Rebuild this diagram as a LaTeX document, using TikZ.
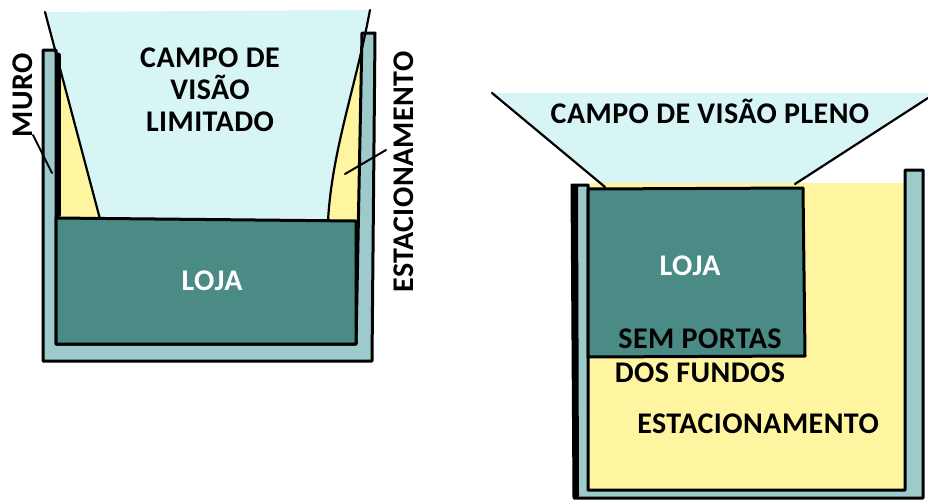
\documentclass[tikz,border=0pt]{standalone}
\usepackage{fontspec}
\setmainfont{Carlito}[LetterSpace=1.5]
\definecolor{fovc}{RGB}{214,245,244}
\definecolor{wallc}{RGB}{157,202,202}
\definecolor{shopc}{RGB}{74,139,134}
\definecolor{parkc}{RGB}{255,245,160}
\begin{document}
\begin{tikzpicture}[x=1pt,y=-1pt,line join=round,line cap=round,
  outl/.style={draw=black,line width=3pt},
  edgeline/.style={draw=black,line width=2.2pt},
  lbl/.style={font=\fontsize{30}{32}\selectfont\bfseries,inner sep=0pt,anchor=base},
  leader/.style={draw=black,line width=2pt}]
\useasboundingbox (0,0) rectangle (928,501);
% ---------- left diagram ----------
\fill[parkc] (56,40) rectangle (360,221);
\fill[fovc] (45,12) -- (100,219) -- (328,221) .. controls (332,150) and (355,90) .. (370,10) -- cycle;
\filldraw[fill=wallc,outl] (43,50) -- (43,361) -- (372,361) -- (375,33) -- (362,33) -- (356,344) -- (56,344) -- (56,50) -- cycle;
\filldraw[fill=shopc,outl] (56,218) -- (356,221) -- (356,344) -- (56,344) -- cycle;
\draw[edgeline] (45,12) -- (100,219);
\draw[edgeline] (370,10) .. controls (355,90) and (332,150) .. (328,221);
\draw[line width=5pt] (58,55) -- (58,215);
\node[lbl] (c1) at (210,67) {CAMPO DE};
\node[lbl] (c2) at (210,99) {VISÃO};
\node[lbl] (c3) at (210,131) {LIMITADO};
\node[lbl,text=white] (loja1) at (212,290) {LOJA};
\node[lbl,rotate=90] (muro) at (32,95) {MURO};
\node[lbl,rotate=90] (estac1) at (413,172) {ESTACIONAMENTO};
\coordinate (muroend) at (52,173);
\coordinate (muroleader) at (33,135);
\draw[leader] (muroleader) -- (muroend);
\coordinate (estacend) at (345,174);
\coordinate (estacleader) at (386,150);
\draw[leader] (estacleader) -- (estacend);
% ---------- right diagram ----------
\fill[fovc] (492,93) -- (928,93) -- (928,98) -- (795,185) -- (605,188) -- cycle;
\fill[parkc] (588,183) rectangle (905,490);
\filldraw[fill=wallc,outl] (572,185) -- (574,498) -- (923,498) -- (923,170) -- (905,170) -- (905,490) -- (588,490) -- (588,185) -- cycle;
\draw[line width=6pt] (575,187) -- (576,496);
\filldraw[fill=shopc,outl] (588,189) -- (803,188) -- (805,356) -- (588,357) -- cycle;
\draw[edgeline] (492,93) -- (605,187);
\draw[edgeline] (928,98) -- (795,184);
\node[lbl] (pleno) at (710,123) {CAMPO DE VISÃO PLENO};
\node[lbl,text=white] (loja2) at (690,275) {LOJA};
\node[lbl] (sem) at (700,348) {SEM PORTAS};
\node[lbl] (dos) at (700,382) {DOS FUNDOS};
\node[lbl] (estac2) at (758,433) {ESTACIONAMENTO};
\end{tikzpicture}
\end{document}
